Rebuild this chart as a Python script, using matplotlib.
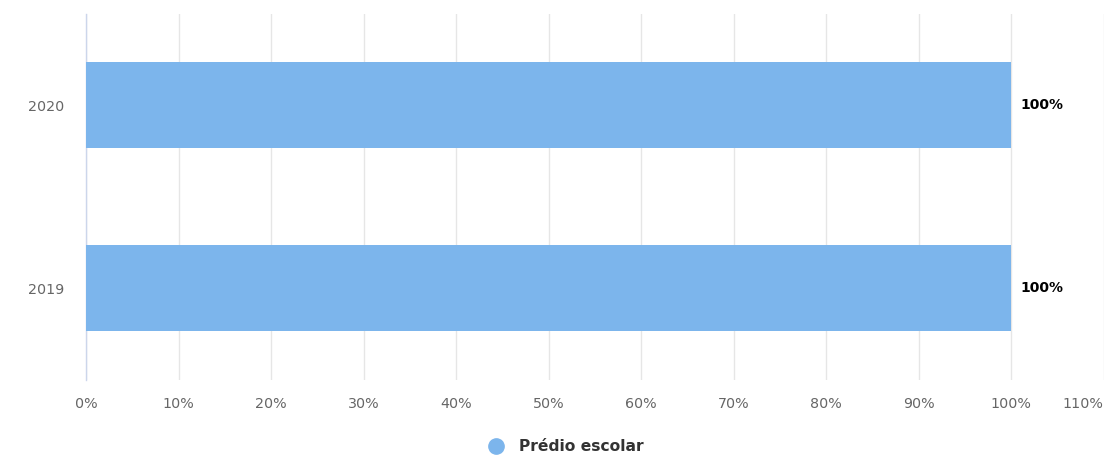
import numpy as np
import matplotlib.pyplot as plt
from matplotlib.lines import Line2D

# data
years = ['2019', '2020']
values = [100, 100]
series_name = 'Prédio escolar'
xticks = np.arange(0, 111, 10)

fig = plt.figure(figsize=(11.13, 4.57), dpi=100)
ax = fig.add_axes([0.0773, 0.1685, 0.9142, 0.801])

ypos = np.arange(len(years))
ax.barh(ypos, values, height=0.47, color='#7cb5ec', zorder=3)

for y, v in zip(ypos, values):
    ax.text(v + 1.0, y, '%d%%' % v, va='center', ha='left',
            fontsize=10, fontweight='bold', color='#000000', zorder=4)

ax.set_xlim(0, 110)
ax.set_ylim(-0.5, 1.5)
ax.set_xticks(xticks)
ax.set_xticklabels(['%d%%' % t for t in xticks], fontsize=10.3, color='#666666')
ax.set_yticks(ypos)
ax.set_yticklabels(years, fontsize=10.3, color='#666666')
ax.tick_params(axis='x', length=0, pad=12)
ax.tick_params(axis='y', length=0, pad=16)
# last label is pulled inside the figure, as in the original
ax.get_xticklabels()[-1].set_horizontalalignment('right')

ax.grid(axis='x', color='#e6e6e6', linewidth=1, zorder=0)
for s in ['top', 'right', 'bottom']:
    ax.spines[s].set_visible(False)
ax.spines['left'].set_color('#ccd6eb')
ax.spines['left'].set_linewidth(1)

handle = Line2D([], [], marker='o', linestyle='none', markersize=11,
                markerfacecolor='#7cb5ec', markeredgecolor='#7cb5ec')
leg = fig.legend([handle], [series_name], loc='center', bbox_to_anchor=(0.505, 0.022),
                 frameon=False, handletextpad=0.5,
                 prop={'size': 11.2, 'weight': 'bold'})
for t in leg.get_texts():
    t.set_color('#333333')

fig.savefig('out.png', dpi=100)
